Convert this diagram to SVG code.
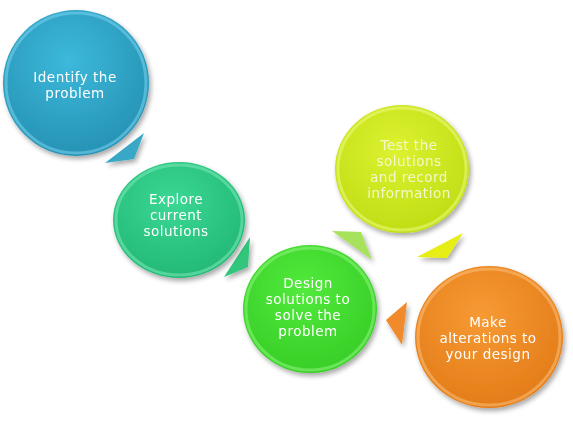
<svg xmlns="http://www.w3.org/2000/svg" width="573" height="422" viewBox="0 0 573 422">
<defs>
<style>
.lbl{font-family:"DejaVu Sans",Verdana,sans-serif;font-size:13.5px;letter-spacing:0.5px;fill:#ffffff;text-anchor:middle}
.lblY{font-family:"DejaVu Sans",Verdana,sans-serif;font-size:13.5px;letter-spacing:0.5px;fill:#f4f8c8;text-anchor:middle}
.rim{fill:none;stroke-width:3;stroke-opacity:0.55}
</style>
<filter id="sh" x="-20%" y="-20%" width="140%" height="140%">
<feGaussianBlur in="SourceAlpha" stdDeviation="2.5"/>
<feOffset dx="2" dy="3" result="b"/>
<feComponentTransfer><feFuncA type="linear" slope="0.35"/></feComponentTransfer>
<feMerge><feMergeNode/><feMergeNode in="SourceGraphic"/></feMerge>
</filter>
<radialGradient id="gB" cx="45%" cy="35%" r="70%"><stop offset="0" stop-color="#3cb9db"/><stop offset="1" stop-color="#2590b2"/></radialGradient>
<radialGradient id="gT" cx="45%" cy="35%" r="70%"><stop offset="0" stop-color="#3ad894"/><stop offset="1" stop-color="#22b674"/></radialGradient>
<radialGradient id="gG" cx="45%" cy="35%" r="70%"><stop offset="0" stop-color="#52ea3c"/><stop offset="1" stop-color="#36cc26"/></radialGradient>
<radialGradient id="gY" cx="45%" cy="35%" r="70%"><stop offset="0" stop-color="#dcf230"/><stop offset="1" stop-color="#bedc14"/></radialGradient>
<radialGradient id="gO" cx="45%" cy="35%" r="70%"><stop offset="0" stop-color="#f79a34"/><stop offset="1" stop-color="#e27a16"/></radialGradient>
</defs>
<rect width="573" height="422" fill="#ffffff"/>
<g id="connectors" filter="url(#sh)">
<polygon points="144,133 105,163 134,159" fill="#38a8c6"/>
<polygon points="250,237 224,277 248,267" fill="#33c67c"/>
<polygon points="332,231 361,232 372,260" fill="#a6e25c"/>
<polygon points="463,233 417,257 447,258" fill="#e6ee12"/>
<polygon points="407,302 386,320 402,345" fill="#f08a2a"/>
</g>
<g id="node1" filter="url(#sh)">
<ellipse cx="76" cy="83" rx="73" ry="73" fill="url(#gB)"/>
<ellipse cx="76" cy="83" rx="70" ry="70" class="rim" stroke="#7ad4ee"/>
<text class="lbl" x="75" y="82">Identify  the</text>
<text class="lbl" x="75" y="98">problem</text>
</g>
<g id="node2" filter="url(#sh)">
<ellipse cx="179" cy="220" rx="66" ry="58" fill="url(#gT)"/>
<ellipse cx="179" cy="220" rx="63" ry="55" class="rim" stroke="#7eeab8"/>
<text class="lbl" x="176" y="204">Explore</text>
<text class="lbl" x="176" y="220">current</text>
<text class="lbl" x="176" y="236">solutions</text>
</g>
<g id="node3" filter="url(#sh)">
<ellipse cx="310" cy="309" rx="67" ry="64" fill="url(#gG)"/>
<ellipse cx="310" cy="309" rx="64" ry="61" class="rim" stroke="#8ef57c"/>
<text class="lbl" x="308" y="288">Design</text>
<text class="lbl" x="308" y="304">solutions to</text>
<text class="lbl" x="308" y="320">solve the</text>
<text class="lbl" x="308" y="336">problem</text>
</g>
<g id="node4" filter="url(#sh)">
<ellipse cx="402" cy="169" rx="67" ry="64" fill="url(#gY)"/>
<ellipse cx="402" cy="169" rx="64" ry="61" class="rim" stroke="#eefa80"/>
<text class="lblY" x="409" y="150">Test the</text>
<text class="lblY" x="409" y="166">solutions</text>
<text class="lblY" x="409" y="182">and record</text>
<text class="lblY" x="409" y="198">information</text>
</g>
<g id="node5" filter="url(#sh)">
<ellipse cx="489" cy="337" rx="74" ry="71" fill="url(#gO)"/>
<ellipse cx="489" cy="337" rx="71" ry="68" class="rim" stroke="#fbc07a"/>
<text class="lbl" x="488" y="327">Make</text>
<text class="lbl" x="488" y="343">alterations to</text>
<text class="lbl" x="488" y="359">your design</text>
</g>
</svg>
